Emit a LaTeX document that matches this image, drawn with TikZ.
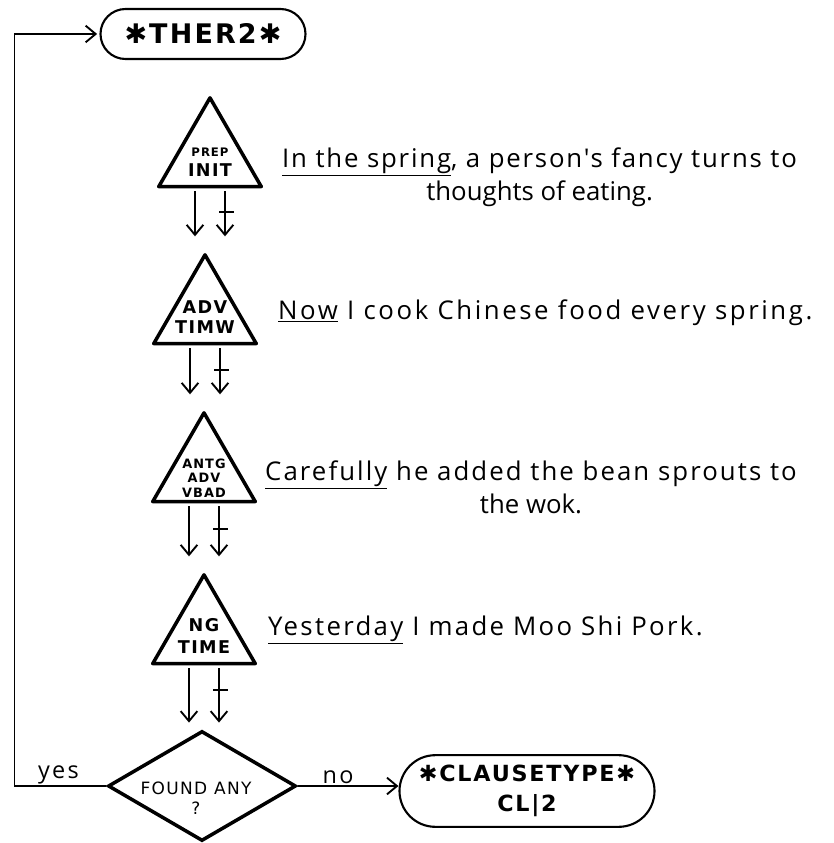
\documentclass[tikz,border=0pt]{standalone}
\usepackage{fontspec}
\setmainfont{Liberation Sans}
\newfontfamily\lab[LetterSpace=8]{DejaVu Sans}
\newfontfamily\hw{Open Sans}
\usetikzlibrary{shapes.geometric,shapes.misc,arrows.meta,calc}
\newcommand\twoarr[3]{%
  \draw[arr, shorten >=#3] ($(#1.south)+(-15,3)$) coordinate (l#1) -- (l#1 |- #2.north);
  \draw[arr, shorten >=#3] ($(#1.south)+(15,3)$) coordinate (r#1) -- coordinate[pos=0.35] (m#1) (r#1 |- #2.north);
  \draw[ln] ($(m#1)+(-6,0)$) -- ($(m#1)+(9,0)$);}
\newcommand\ls[1]{\addfontfeatures{LetterSpace=#1}}
\begin{document}
\begin{tikzpicture}[x=0.03cm,y=-0.03cm,
  tri/.style={regular polygon, regular polygon sides=3, draw, line width=3pt, minimum size=3.55cm, inner sep=0pt, line join=round},
  trilab/.style={font=\lab\bfseries\fontsize{15}{16}\selectfont, align=center, inner sep=0pt},
  sent/.style={font=\hw\fontsize{22}{28}\selectfont, align=center, anchor=west, inner sep=0pt},
  term/.style={rounded rectangle, draw, line width=1.8pt, inner sep=0pt, align=center},
  dec/.style={diamond, draw, line width=3pt, minimum width=5.64cm, minimum height=3.3cm, inner sep=0pt},
  arr/.style={line width=1.6pt, -{Straight Barb[length=3mm,width=5mm]}},
  ln/.style={line width=1.6pt},
  edgelab/.style={font=\hw\fontsize{20}{22}\selectfont\ls{10}, inner sep=1pt}
]
\useasboundingbox (0,0) rectangle (833,843);

% terminals
\node[term, minimum width=6.15cm, minimum height=1.5cm, font=\lab\bfseries\fontsize{23}{24}\selectfont] (ther) at (203,34) {✱THER2✱};
\node[term, minimum width=7.65cm, minimum height=2.15cm, font=\lab\bfseries\fontsize{19}{26}\selectfont] (ct) at (527,791) {✱CLAUSETYPE✱\\CL|2};

% triangles
\node[tri] (t1) at (210,157) {};
\node[trilab] (l1) at ($(t1.center)+(0,5)$) {{\fontsize{10}{11}\selectfont PREP}\\[1pt]INIT};
\node[tri] (t2) at (205,314) {};
\node[trilab] (l2) at ($(t2.center)+(0,3)$) {ADV\\[1pt]TIMW};
\node[trilab, font=\lab\bfseries\fontsize{11}{12.5}\selectfont] (l3) at (204,478) {ANTG\\ADV\\VBAD};
\node[tri] (t3) at (204,472) {};
\node[tri] (t4) at (204,634) {};
\node[trilab] (l4) at ($(t4.center)+(0,2)$) {NG\\[2pt]TIME};

% decision
\node[dec] (q) at (202,786) {};
\node[trilab, font=\lab\fontsize{14.5}{17}\selectfont] (ql) at ($(q.center)+(-6,12)$) {FOUND ANY\\?};

% sentences
\node[sent] (s1) at (282,177) {\ls{7}\underline{In the spring}, a person's fancy turns to\\thoughts of eating.};
\node[sent] (s2) at (278,313) {\ls{10}\underline{Now} I cook Chinese food every spring.};
\node[sent] (s3) at (265,487) {\ls{8}\underline{Carefully} he added the bean sprouts to\\the wok.};
\node[sent] (s4) at (268,630) {\ls{9}\underline{Yesterday} I made Moo Shi Pork.};

% arrow pairs
\twoarr{t1}{t2}{0.45cm}
\twoarr{t2}{t3}{0.45cm}
\twoarr{t3}{t4}{0.45cm}
\twoarr{t4}{q}{0.2cm}

% yes / no
\coordinate (P) at ($(ther.west)+(-85,0)$);
\draw[arr, shorten >=2pt] (q.west) -- node[edgelab, above, pos=0.52] {yes} (q.west -| P) -- (P) -- (ther.west);
\draw[arr] (q.east) -- node[edgelab, above, pos=0.4] {no} (q.east -| ct.west);
\end{tikzpicture}
\end{document}
